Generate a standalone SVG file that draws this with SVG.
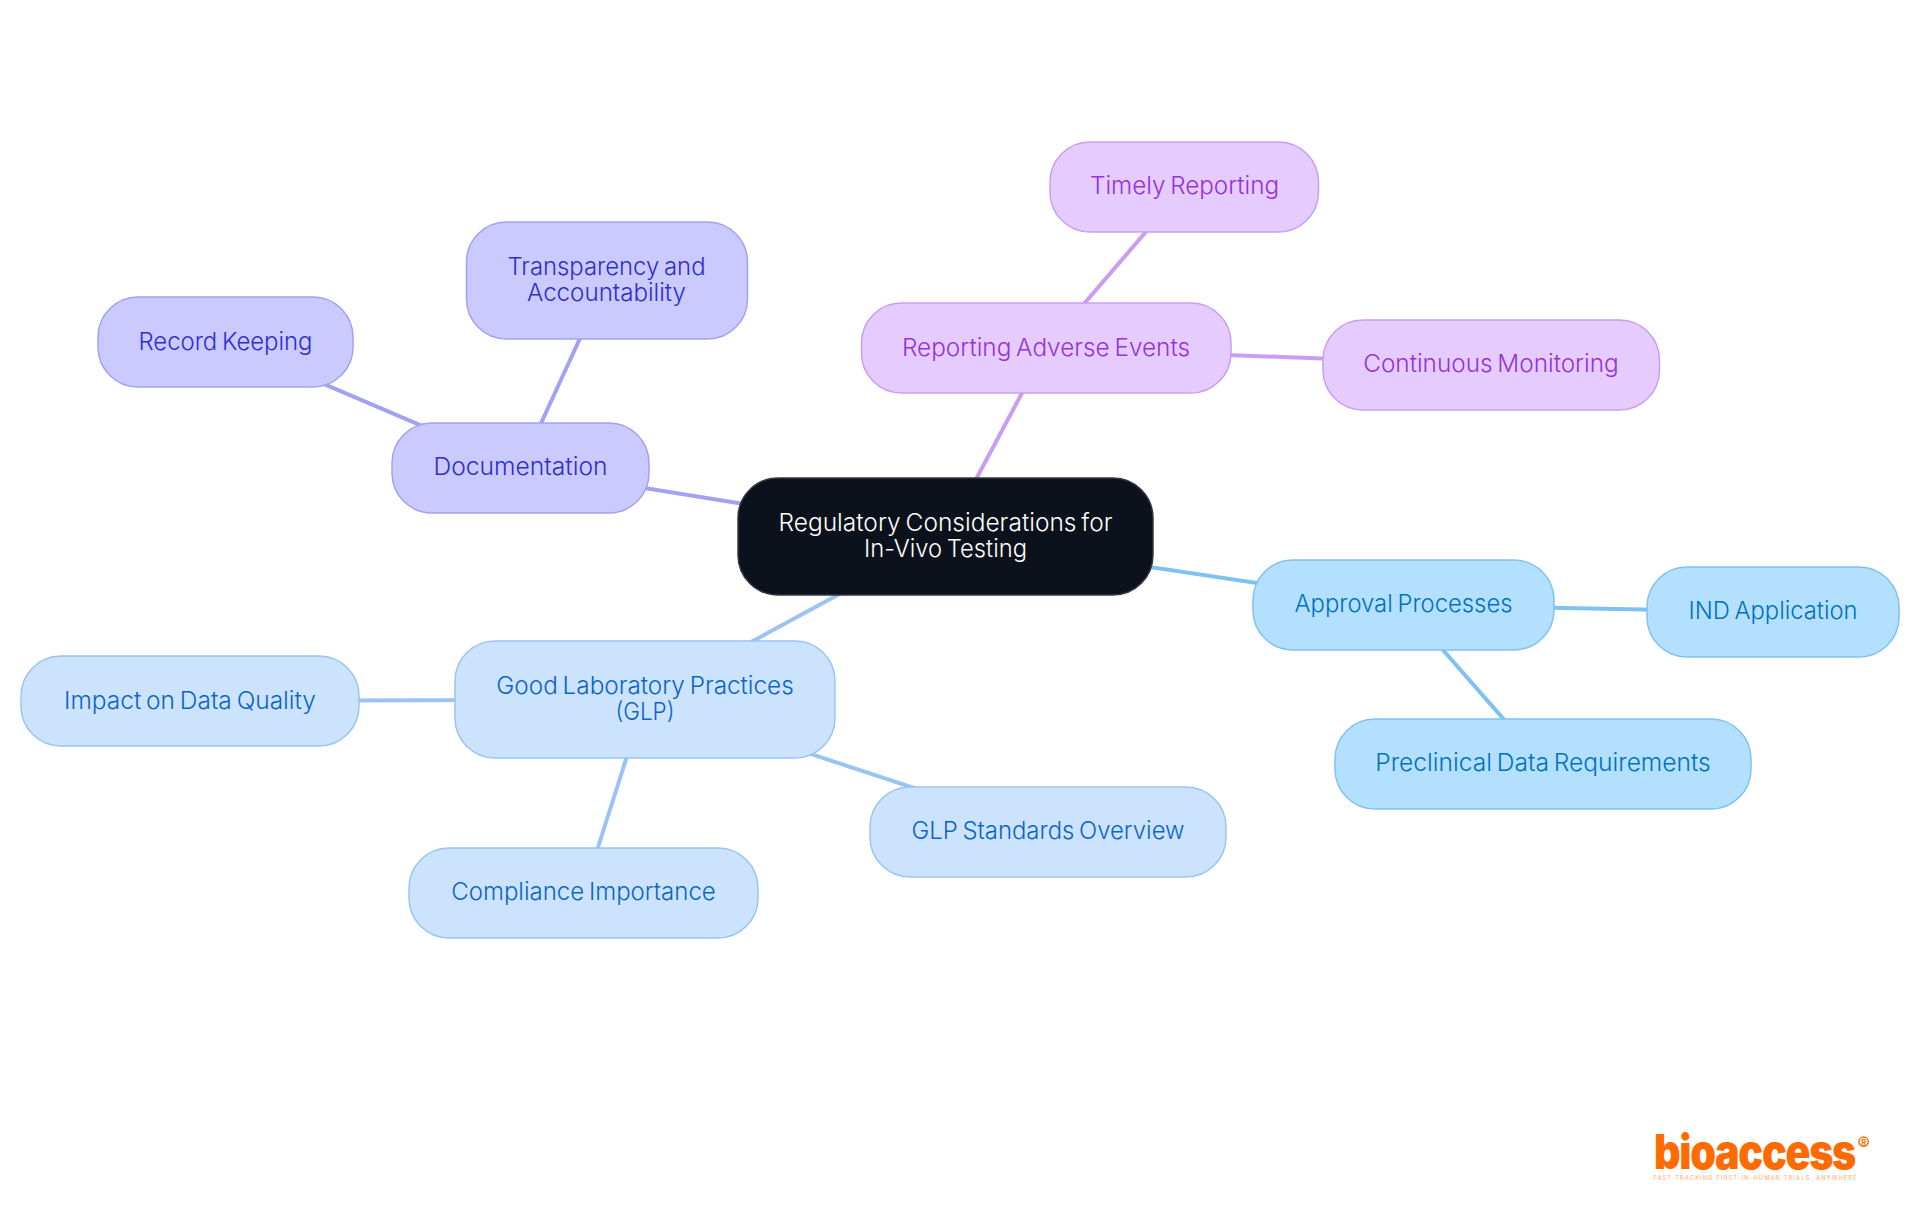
<svg xmlns="http://www.w3.org/2000/svg" width="1920" height="1215" viewBox="0 0 1920 1215">
<style>
text{font-family:"Inter","Noto Sans","Liberation Sans",sans-serif;font-size:24px;text-anchor:middle;font-weight:350;word-spacing:-2px}
rect{stroke-width:1.5}
#connectors line{stroke-width:4;fill:none}
.c0 rect{fill:#0c121b;stroke:#33383f}.c0 text{fill:#fff}
.blue rect{fill:#b3e0ff;stroke:#7fc2f2}.blue text{fill:#0070c4}
.sky rect{fill:#cce3fd;stroke:#9ac4f4}.sky text{fill:#0b63cc}
.ind rect{fill:#cacafe;stroke:#a1a1f6}.ind text{fill:#2e2ecf}
.pur rect{fill:#e6ccfe;stroke:#c99ef2}.pur text{fill:#9432dc}
.lblue{stroke:#7fc2f2}.lsky{stroke:#9ac4f4}.lind{stroke:#a1a1f6}.lpur{stroke:#c99ef2}
.logo{fill:#ff6b00}
</style>
<g id="connectors">
<line class="lblue" x1="945.5" y1="536.5" x2="1403.5" y2="605"/>
<line class="lblue" x1="1403.5" y1="605" x2="1773" y2="612"/>
<line class="lblue" x1="1403.5" y1="605" x2="1543" y2="764"/>
<line class="lsky" x1="945.5" y1="536.5" x2="645" y2="699.5"/>
<line class="lsky" x1="645" y1="699.5" x2="190" y2="701"/>
<line class="lsky" x1="645" y1="699.5" x2="583.5" y2="893"/>
<line class="lsky" x1="645" y1="699.5" x2="1048" y2="832"/>
<line class="lind" x1="945.5" y1="536.5" x2="520.5" y2="468"/>
<line class="lind" x1="520.5" y1="468" x2="606.5" y2="280.5"/>
<line class="lind" x1="520.5" y1="468" x2="225.5" y2="342"/>
<line class="lpur" x1="945.5" y1="536.5" x2="1046" y2="348"/>
<line class="lpur" x1="1046" y1="348" x2="1184.5" y2="187"/>
<line class="lpur" x1="1046" y1="348" x2="1491" y2="365"/>
</g>
<g id="root" class="c0"><rect x="738" y="478" width="415" height="117" rx="40"/>
<text x="945.5" y="530.5" textLength="334" lengthAdjust="spacingAndGlyphs">Regulatory Considerations for</text>
<text x="945.5" y="556.5" textLength="163" lengthAdjust="spacingAndGlyphs">In-Vivo Testing</text></g>
<g id="approval" class="blue"><rect x="1253" y="560" width="301" height="90" rx="40"/>
<text x="1403.5" y="612" textLength="218" lengthAdjust="spacingAndGlyphs">Approval Processes</text></g>
<g id="ind" class="blue"><rect x="1647" y="567" width="252" height="90" rx="40"/>
<text x="1773" y="619" textLength="169" lengthAdjust="spacingAndGlyphs">IND Application</text></g>
<g id="preclinical" class="blue"><rect x="1335" y="719" width="416" height="90" rx="40"/>
<text x="1543" y="771" textLength="335.5" lengthAdjust="spacingAndGlyphs">Preclinical Data Requirements</text></g>
<g id="glp" class="sky"><rect x="455" y="641" width="380" height="117" rx="40"/>
<text x="645" y="693.5" textLength="297.5" lengthAdjust="spacingAndGlyphs">Good Laboratory Practices</text>
<text x="645" y="719.5" textLength="59" lengthAdjust="spacingAndGlyphs">(GLP)</text></g>
<g id="impact" class="sky"><rect x="21" y="656" width="338" height="90" rx="40"/>
<text x="190" y="709" textLength="252" lengthAdjust="spacingAndGlyphs">Impact on Data Quality</text></g>
<g id="compliance" class="sky"><rect x="409" y="848" width="349" height="90" rx="40"/>
<text x="583.5" y="900" textLength="264.5" lengthAdjust="spacingAndGlyphs">Compliance Importance</text></g>
<g id="standards" class="sky"><rect x="870" y="787" width="356" height="90" rx="40"/>
<text x="1048" y="839" textLength="273" lengthAdjust="spacingAndGlyphs">GLP Standards Overview</text></g>
<g id="documentation" class="ind"><rect x="392" y="423" width="257" height="90" rx="40"/>
<text x="520.5" y="474.5" textLength="174" lengthAdjust="spacingAndGlyphs">Documentation</text></g>
<g id="transparency" class="ind"><rect x="466.5" y="222" width="281" height="117" rx="40"/>
<text x="606.5" y="275" textLength="198" lengthAdjust="spacingAndGlyphs">Transparency and</text>
<text x="606.5" y="300.7" textLength="159" lengthAdjust="spacingAndGlyphs">Accountability</text></g>
<g id="record" class="ind"><rect x="98" y="297" width="255" height="90" rx="40"/>
<text x="225.5" y="350" textLength="174" lengthAdjust="spacingAndGlyphs">Record Keeping</text></g>
<g id="adverse" class="pur"><rect x="861.5" y="303" width="369.5" height="90" rx="40"/>
<text x="1046" y="355.5" textLength="288" lengthAdjust="spacingAndGlyphs">Reporting Adverse Events</text></g>
<g id="timely" class="pur"><rect x="1050" y="142" width="268.5" height="90" rx="40"/>
<text x="1184.5" y="194" textLength="189" lengthAdjust="spacingAndGlyphs">Timely Reporting</text></g>
<g id="monitoring" class="pur"><rect x="1323" y="320" width="336.5" height="90" rx="40"/>
<text x="1491" y="372" textLength="255.5" lengthAdjust="spacingAndGlyphs">Continuous Monitoring</text></g>
<g id="logo">
<text class="logo" x="1754.5" y="1169" style="font-size:48px;font-weight:900;letter-spacing:-1.5px" textLength="201" lengthAdjust="spacingAndGlyphs">bioaccess</text>
<circle cx="1863.6" cy="1141.7" r="4.6" fill="none" stroke="#ff6b00" stroke-width="1.5"/>
<text class="logo" x="1863.6" y="1144.5" style="font-size:7.5px;font-weight:700">R</text>
<text x="1755" y="1179.5" style="font-size:5.5px;fill:#ffb27a;font-weight:500;word-spacing:0" textLength="203" lengthAdjust="spacing">FAST-TRACKING FIRST-IN-HUMAN TRIALS, ANYWHERE</text>
</g>
</svg>
